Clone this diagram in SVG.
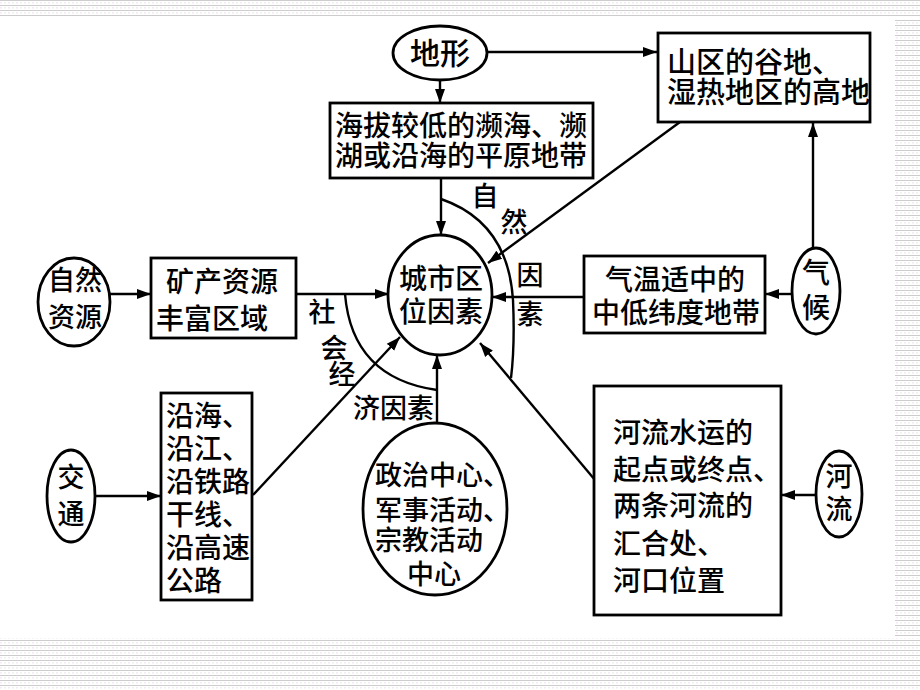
<svg xmlns="http://www.w3.org/2000/svg" width="920" height="690" viewBox="0 0 920 690">
<defs>
<style>
.bx{fill:#fff;stroke:#000;stroke-width:2.8}
.el{fill:#fff;stroke:#000;stroke-width:2.8}
.cn{fill:none;stroke:#000;stroke-width:2.4}
text{font-family:"Noto Sans CJK SC","Noto Sans CJK JP",sans-serif;fill:#000;font-size:28px;font-weight:500}
.lb{font-size:27px}
</style>
<marker id="ah" markerUnits="userSpaceOnUse" markerWidth="16" markerHeight="12" refX="14" refY="6" orient="auto">
<path d="M0,1 L14,6 L0,11 Z" fill="#000"/>
</marker>
<pattern id="bg" width="8" height="5" patternUnits="userSpaceOnUse">
<rect x="0" y="0" width="8" height="1" fill="#cdcdcd"/>
<rect x="0" y="2.5" width="2" height="0.8" fill="#ecd6ec"/>
<rect x="4" y="2.5" width="2" height="0.8" fill="#d8e8d8"/>
</pattern>
</defs>
<rect width="920" height="690" fill="#fff"/>
<g id="background">
<rect x="0" y="0" width="920" height="17" fill="url(#bg)"/>
<rect x="895" y="20" width="25" height="617" fill="url(#bg)"/>
<rect x="0" y="638" width="920" height="52" fill="url(#bg)"/>
</g>
<g id="connectors">
<line class="cn" x1="487" y1="52" x2="657" y2="52" marker-end="url(#ah)"/>
<line class="cn" x1="440" y1="80" x2="440" y2="103" marker-end="url(#ah)"/>
<line class="cn" x1="441" y1="178" x2="441" y2="235" marker-end="url(#ah)"/>
<line class="cn" x1="680" y1="122" x2="488" y2="263" marker-end="url(#ah)"/>
<line class="cn" x1="813" y1="249" x2="813" y2="123" marker-end="url(#ah)"/>
<line class="cn" x1="110" y1="294" x2="151" y2="294" marker-end="url(#ah)"/>
<line class="cn" x1="296" y1="294" x2="389" y2="294" marker-end="url(#ah)"/>
<line class="cn" x1="792" y1="294" x2="765" y2="294" marker-end="url(#ah)"/>
<line class="cn" x1="584" y1="297" x2="492" y2="297" marker-end="url(#ah)"/>
<line class="cn" x1="95" y1="496" x2="161" y2="496" marker-end="url(#ah)"/>
<line class="cn" x1="253" y1="495" x2="400" y2="337" marker-end="url(#ah)"/>
<line class="cn" x1="437" y1="423" x2="437" y2="355" marker-end="url(#ah)"/>
<line class="cn" x1="816" y1="495" x2="781" y2="495" marker-end="url(#ah)"/>
<line class="cn" x1="595" y1="480" x2="480" y2="343" marker-end="url(#ah)"/>
<path class="cn" d="M441,199 Q508,222 513,300 Q515,345 511,378"/>
<path class="cn" d="M345,294 Q352,378 437,390"/>
</g>
<g id="n-dixing">
<ellipse class="el" cx="440" cy="53" rx="47" ry="27"/>
<text x="440" y="64" text-anchor="middle" style="font-size:30px">地形</text>
</g>
<g id="n-shanqu">
<rect class="bx" x="658" y="33" width="212" height="89"/>
<text x="667" y="73" style="font-size:29px">山区的谷地、</text>
<text x="667" y="103" style="font-size:29px">湿热地区的高地</text>
</g>
<g id="n-haiba">
<rect class="bx" x="330" y="103" width="263" height="75"/>
<text x="335" y="136">海拔较低的濒海、濒</text>
<text x="335" y="166">湖或沿海的平原地带</text>
</g>
<g id="n-city">
<ellipse class="el" cx="440" cy="295" rx="52" ry="60"/>
<text x="441" y="289" text-anchor="middle">城市区</text>
<text x="441" y="322" text-anchor="middle">位因素</text>
</g>
<g id="lbl-ziran">
<text class="lb" x="485" y="206" text-anchor="middle">自</text>
<text class="lb" x="514" y="232" text-anchor="middle">然</text>
<text class="lb" x="530" y="285" text-anchor="middle">因</text>
<text class="lb" x="530" y="324" text-anchor="middle">素</text>
</g>
<g id="lbl-shehui">
<text class="lb" x="322" y="322" text-anchor="middle">社</text>
<text class="lb" x="334" y="358" text-anchor="middle">会</text>
<text class="lb" x="342" y="384" text-anchor="middle">经</text>
<text class="lb" x="353" y="418">济因素</text>
</g>
<g id="n-ziranziyuan">
<ellipse class="el" cx="74" cy="302" rx="36" ry="44"/>
<text class="lb" x="75" y="290" text-anchor="middle">自然</text>
<text class="lb" x="75" y="327" text-anchor="middle">资源</text>
</g>
<g id="n-kuangchan">
<rect class="bx" x="151" y="258" width="145" height="80"/>
<text x="166" y="292">矿产资源</text>
<text x="156" y="329">丰富区域</text>
</g>
<g id="n-qihou">
<ellipse class="el" cx="816" cy="291" rx="24" ry="43"/>
<text x="816" y="283" text-anchor="middle">气</text>
<text x="816" y="318" text-anchor="middle">候</text>
</g>
<g id="n-qiwen">
<rect class="bx" x="584" y="256" width="181" height="77"/>
<text x="605" y="290">气温适中的</text>
<text x="592" y="323">中低纬度地带</text>
</g>
<g id="n-jiaotong">
<ellipse class="el" cx="71" cy="496" rx="24" ry="46"/>
<text class="lb" x="71" y="487" text-anchor="middle">交</text>
<text class="lb" x="71" y="524" text-anchor="middle">通</text>
</g>
<g id="n-yanhai">
<rect class="bx" x="161" y="393" width="91" height="207"/>
<text x="166" y="426">沿海、</text>
<text x="166" y="459">沿江、</text>
<text x="166" y="492">沿铁路</text>
<text x="166" y="525">干线、</text>
<text x="166" y="558">沿高速</text>
<text x="166" y="591">公路</text>
</g>
<g id="n-zhengzhi">
<ellipse class="el" cx="435" cy="509" rx="72" ry="86"/>
<text class="lb" x="375" y="485">政治中心、</text>
<text class="lb" x="375" y="520">军事活动、</text>
<text class="lb" x="375" y="550">宗教活动</text>
<text class="lb" x="434" y="584" text-anchor="middle">中心</text>
</g>
<g id="n-heliu-box">
<rect class="bx" x="594" y="386" width="187" height="229"/>
<text x="613" y="443">河流水运的</text>
<text x="613" y="480">起点或终点、</text>
<text x="613" y="516">两条河流的</text>
<text x="613" y="554">汇合处、</text>
<text x="613" y="591">河口位置</text>
</g>
<g id="n-heliu">
<ellipse class="el" cx="839" cy="494" rx="23" ry="43"/>
<text class="lb" x="839" y="486" text-anchor="middle">河</text>
<text class="lb" x="839" y="519" text-anchor="middle">流</text>
</g>
</svg>
